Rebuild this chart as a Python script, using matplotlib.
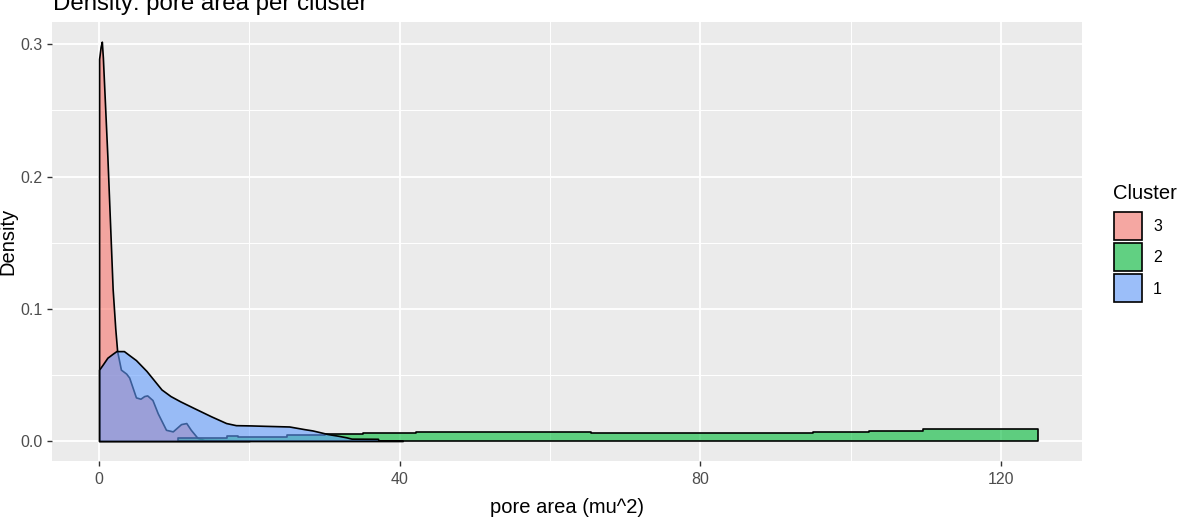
#!/usr/bin/env python3
# -*- coding: utf-8 -*-
"""Density of pore area per cluster, ggplot-like look."""

import matplotlib

matplotlib.use("Agg")
import matplotlib.pyplot as plt
from matplotlib.patches import Rectangle

plt.rcParams["font.family"] = ["Liberation Sans", "DejaVu Sans"]

W, H = 1196, 525

# cluster 3 (red)
C3_X = [0.0, 0.0, 0.2, 0.36, 0.5, 0.7, 1.1, 1.45, 1.8, 2.15, 2.4, 2.9, 3.6, 4.0,
        4.9, 5.5, 6.0, 6.4, 7.1, 7.8, 8.9, 9.8, 10.9, 11.6, 12.2, 13.1, 14.0, 20.0, 20.0]
C3_Y = [0.0, 0.289, 0.298, 0.302, 0.29, 0.265, 0.215, 0.165, 0.115, 0.085, 0.068, 0.054,
        0.051, 0.048, 0.033, 0.032, 0.034, 0.0345, 0.031, 0.021, 0.0085, 0.0073, 0.0128,
        0.0136, 0.0085, 0.0023, 0.0008, 0.0004, 0.0]

# cluster 2 (green), stepped curve: edges and levels between them
C2_EDGES = [10.5, 17.0, 18.5, 25.0, 30.0, 35.1, 42.2, 65.4, 95.0, 102.4, 109.6, 124.9]
C2_LEVELS = [0.0022, 0.0038, 0.0028, 0.0042, 0.0050, 0.0060, 0.0069, 0.0064, 0.0070,
             0.0078, 0.0091]

# cluster 1 (blue)
C1_X = [0.0, 0.0, 0.5, 1.1, 1.8, 2.3, 3.3, 4.0, 4.9, 6.3, 7.3, 8.3, 9.5, 10.8, 12.6,
        14.9, 16.9, 18.2, 20.2, 22.0, 25.3, 27.3, 28.4, 29.3, 30.4, 31.8, 32.9, 33.6,
        37.1, 37.2, 40.4, 40.4]
C1_Y = [0.0, 0.054, 0.058, 0.063, 0.066, 0.068, 0.068, 0.065, 0.0612, 0.053, 0.046,
        0.039, 0.034, 0.030, 0.025, 0.0187, 0.0136, 0.012, 0.0118, 0.0115, 0.011, 0.009,
        0.008, 0.0068, 0.0053, 0.004, 0.0028, 0.0018, 0.0017, 0.0003, 0.0003, 0.0]

LABELS = ["3", "2", "1"]
COLORS = ["#F8766D", "#00BA38", "#619CFF"]
ALPHA = 0.6

X_TICKS = [0, 40, 80, 120]
Y_TICKS = [0.0, 0.1, 0.2, 0.3]
Y_TICK_LABELS = ["0.0", "0.1", "0.2", "0.3"]


def rgba(hex_color, a):
    c = matplotlib.colors.to_rgb(hex_color)
    return (c[0], c[1], c[2], a)


def main():
    fig = plt.figure(figsize=(W / 100, H / 100), dpi=100, facecolor="white")
    left, right, top, bottom = 52.3, 1082.0, 21.7, 461.0
    ax = fig.add_axes([left / W, 1 - bottom / H, (right - left) / W, (bottom - top) / H])
    ax.set_facecolor("#EBEBEB")
    for s in ax.spines.values():
        s.set_visible(False)

    lw = 1.2
    ax.fill_between(C3_X, C3_Y, 0, facecolor=rgba(COLORS[0], ALPHA), edgecolor="black",
                    linewidth=lw, zorder=3)
    levels = C2_LEVELS + [C2_LEVELS[-1]]
    ax.fill_between(C2_EDGES, levels, 0, step="post", facecolor=rgba(COLORS[1], ALPHA),
                    edgecolor="black", linewidth=lw, zorder=4)
    ax.fill_between(C1_X, C1_Y, 0, facecolor=rgba(COLORS[2], ALPHA), edgecolor="black",
                    linewidth=lw, zorder=5)

    ax.set_xlim(-6.23, 130.8)
    ax.set_ylim(-0.0151, 0.3171)
    ax.set_xticks(X_TICKS)
    ax.set_xticklabels([str(t) for t in X_TICKS])
    ax.set_yticks(Y_TICKS)
    ax.set_yticklabels(Y_TICK_LABELS)
    ax.set_xticks([20, 60, 100], minor=True)
    ax.set_yticks([0.05, 0.15, 0.25], minor=True)
    ax.grid(True, which="major", color="white", linewidth=1.35, zorder=0)
    ax.grid(True, which="minor", color="white", linewidth=0.7, zorder=0)
    ax.set_axisbelow(True)
    ax.tick_params(which="major", length=3.3, width=1.0, color="#333333",
                   labelcolor="#4D4D4D", labelsize=11.5)
    ax.tick_params(axis="x", pad=4.5)
    ax.tick_params(axis="y", pad=3.4)
    ax.tick_params(which="minor", length=0)

    fig.text(567 / W, 1 - 513 / H, "pore area (mu^2)", fontsize=14.5, ha="center",
             va="baseline")
    fig.text(8 / W, 1 - 241 / H, "Density", fontsize=14.5, rotation=90, ha="center",
             va="center")
    fig.text(53 / W, 1 - 10 / H, "Density: pore area per cluster", fontsize=17.3,
             ha="left", va="baseline")

    # legend drawn by hand
    fig.text(1113 / W, 1 - 199 / H, "Cluster", fontsize=14.5, ha="left", va="baseline")
    key_tops = [211, 242, 273]
    for lab, col, ktop in zip(LABELS, COLORS, key_tops):
        x0, y0 = 1113 / W, 1 - (ktop + 30) / H
        fig.add_artist(Rectangle((x0, y0), 30 / W, 30 / H, transform=fig.transFigure,
                                 facecolor="#F2F2F2", edgecolor="none"))
        fig.add_artist(Rectangle((x0 + 1 / W, y0 + 1 / H), 28 / W, 28 / H,
                                 transform=fig.transFigure, facecolor=rgba(col, ALPHA),
                                 edgecolor="black", linewidth=lw))
        fig.text(1153 / W, 1 - (ktop + 16) / H, lab, fontsize=11.5, ha="left",
                 va="center")

    fig.savefig("out.png", dpi=100, facecolor="white")
    plt.close(fig)


if __name__ == "__main__":
    main()
